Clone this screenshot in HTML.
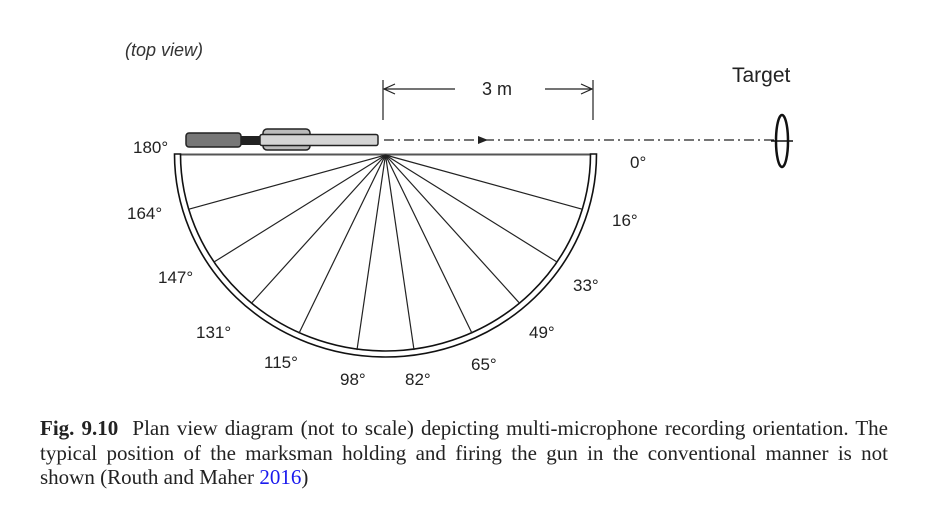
<!DOCTYPE html>
<html><head><meta charset="utf-8"><style>
html,body{margin:0;padding:0;background:#fff;width:941px;height:514px;overflow:hidden}
.cap{position:absolute;left:40px;top:416px;width:848px;font-family:"Liberation Serif",serif;font-size:21px;line-height:24.5px;color:#222}
.cap div{white-space:nowrap}
.cap .j{text-align:justify;text-align-last:justify}
.cap a{color:#1a1aee;text-decoration:none}
</style></head><body>
<svg width="941" height="514" style="position:absolute;left:0;top:0" font-family="Liberation Sans, Arial, sans-serif">
<text x="125" y="56" font-size="18" font-style="italic" fill="#333">(top view)</text>
<text x="732" y="82" font-size="21" fill="#222">Target</text>
<line x1="383" y1="80" x2="383" y2="120" stroke="#222" stroke-width="1.2"/>
<line x1="593" y1="80" x2="593" y2="120" stroke="#222" stroke-width="1.2"/>
<line x1="384" y1="89" x2="455" y2="89" stroke="#222" stroke-width="1.2"/>
<polyline points="395,84 384,89 395,94" fill="none" stroke="#222" stroke-width="1.2"/>
<line x1="545" y1="89" x2="592" y2="89" stroke="#222" stroke-width="1.2"/>
<polyline points="581,84 592,89 581,94" fill="none" stroke="#222" stroke-width="1.2"/>
<text x="482" y="95" font-size="18" fill="#222">3 m</text>
<line x1="384" y1="140" x2="775" y2="140" stroke="#222" stroke-width="1.2" stroke-dasharray="10,4,2,4"/>
<polygon points="478,136 488,140 478,144" fill="#222"/>
<ellipse cx="782" cy="141" rx="6" ry="26" fill="none" stroke="#111" stroke-width="2.5"/>
<line x1="771" y1="141" x2="793" y2="141" stroke="#111" stroke-width="1.5"/>
<rect x="263" y="129" width="47" height="21" rx="4" fill="#bbb" stroke="#222" stroke-width="1.5"/>
<rect x="238" y="136" width="28" height="9" fill="#222"/>
<rect x="260" y="134.5" width="118" height="11" rx="2" fill="#d4d4d4" stroke="#222" stroke-width="1.5"/>
<rect x="186" y="133" width="55" height="14" rx="3" fill="#777" stroke="#222" stroke-width="1.5"/>
<line x1="176" y1="154.5" x2="596" y2="154.5" stroke="#555" stroke-width="2"/>
<path d="M174.5,154 A211,203 0 0 0 596.5,154 L590.5,154 A205,197 0 0 1 180.5,154 Z" fill="#fff" stroke="#111" stroke-width="1.6"/>
<g stroke="#222" stroke-width="1.2" id="sp"></g>
<g font-size="17" fill="#222">
<text x="133" y="153">180°</text>
<text x="127" y="219">164°</text>
<text x="158" y="283">147°</text>
<text x="196" y="338">131°</text>
<text x="264" y="368">115°</text>
<text x="340" y="385">98°</text>
<text x="405" y="385">82°</text>
<text x="471" y="370">65°</text>
<text x="529" y="338">49°</text>
<text x="573" y="291">33°</text>
<text x="612" y="226">16°</text>
<text x="630" y="168">0°</text>
</g>
</svg>
<script>
var g=document.getElementById('sp'),cx=385.5,cy=155,a=[16,33,49,65,82,98,115,131,147,164];
a.forEach(function(d){var r=d*Math.PI/180;var x=cx+205*Math.cos(r),y=cy+197*Math.sin(r);
var l=document.createElementNS('http://www.w3.org/2000/svg','line');l.setAttribute('x1',cx);l.setAttribute('y1',cy);l.setAttribute('x2',x);l.setAttribute('y2',y);g.appendChild(l);});
</script>
<div class="cap">
<div class="j"><b>Fig. 9.10</b>&nbsp;&nbsp;Plan view diagram (not to scale) depicting multi-microphone recording orientation. The</div>
<div class="j">typical position of the marksman holding and firing the gun in the conventional manner is not</div>
<div>shown (Routh and Maher <a>2016</a>)</div>
</div>
</body></html>
